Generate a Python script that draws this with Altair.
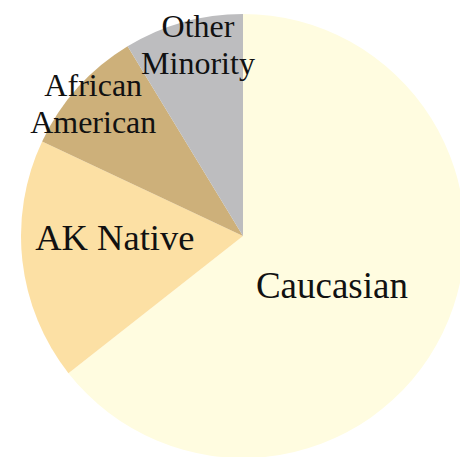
import altair as alt
import pandas as pd

categories = ["Caucasian", "AK Native", "African American", "Other Minority"]
labels = ["Caucasian", "AK Native", "African\nAmerican", "Other\nMinority"]
values = [64.4, 17.6, 9.3, 8.7]
colors = ["#FFFCE0", "#FCE0A4", "#CDB07A", "#BDBDBF"]

df = pd.DataFrame({"cat": categories, "label": labels, "value": values,
                   "idx": list(range(len(categories)))})
total = sum(values)

CX, CY, R = 235, 228, 222
FONT = "Liberation Serif"
theta_scale = alt.Scale(domain=[0, total])

base = alt.Chart(df)

pie = base.mark_arc(outerRadius=R, stroke=None).encode(
    theta=alt.Theta("value:Q", stack=True, scale=theta_scale),
    order=alt.Order("idx:Q"),
    color=alt.Color("cat:N", scale=alt.Scale(domain=categories, range=colors), legend=None),
    x=alt.value(CX),
    y=alt.value(CY),
)

def label_layer(cat, radius, size, dx, dy, lh):
    return base.transform_window(
        cum="sum(value)", sort=[alt.SortField("idx")], frame=[None, 0]
    ).transform_calculate(
        mid="datum.cum - datum.value / 2"
    ).transform_filter(
        alt.datum.cat == cat
    ).mark_text(
        radius=radius, fontSize=size, font=FONT, color="#111111",
        align="center", baseline="middle", lineBreak="\n", lineHeight=lh,
        dx=dx, dy=dy,
    ).encode(
        theta=alt.Theta("mid:Q", stack=None, scale=theta_scale),
        text="label:N",
        x=alt.value(CX),
        y=alt.value(CY),
    )

chart = alt.layer(
    pie,
    label_layer("Caucasian", 100, 37, -1, 7, 38),
    label_layer("AK Native", 127, 36.5, -2, -11, 38),
    label_layer("African American", 200, 32, -1, -16, 37),
    label_layer("Other Minority", 200, 32, 9, -16, 37),
).properties(
    width=452, height=449, padding=0, autosize=alt.AutoSizeParams(type="none")
).configure_view(stroke=None)

chart.save("out.html", embed_options={"renderer": "svg", "actions": False})
